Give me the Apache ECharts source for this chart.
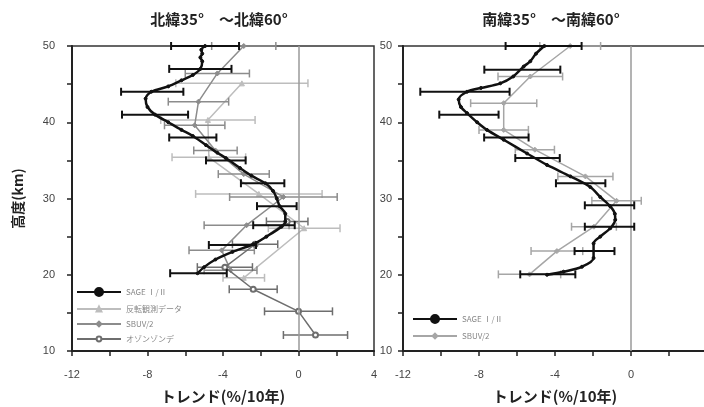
<!DOCTYPE html>
<html><head><meta charset="utf-8">
<script src="https://cdn.jsdelivr.net/npm/echarts@6/dist/echarts.min.js"></script>
<style>html,body{margin:0;padding:0;background:#fff}#c{width:704px;height:407px}</style>
</head><body><div id="c"></div>
<script>
// ---------- tick labels / titles ----------
const xTickLabels = ['-12', '-8', '-4', '0', '4'];
const yTickLabels = ['10', '20', '30', '40', '50'];
const titles = ['北緯35°　～北緯60°', '南緯35°　～南緯60°'];
const xName = 'トレンド(%/10年)';
const yName = '高度(km)';

// ---------- North 35-60 : SAGE I/II profile ----------
const nSageAlt = [50, 49.5, 49, 48.5, 48, 47, 46.2, 45.5, 44.7, 44, 43.1, 42, 41, 40, 39, 38.2, 37, 36, 35.3, 34, 33, 32, 31, 30, 29, 28, 27, 26.3, 25, 24, 23, 22, 21, 20.2];
const nSageVal = [-4.95, -5.15, -5.1, -5.2, -5.1, -5.2, -5.6, -6.2, -6.9, -7.8, -8.1, -8.0, -7.6, -6.9, -6.2, -5.6, -4.9, -4.3, -3.85, -3.1, -2.5, -1.75, -1.35, -1.15, -1.0, -0.7, -0.7, -0.9, -1.7, -2.4, -3.5, -4.4, -5.0, -5.35];
const nSageErrAlt = [50, 47, 44, 41, 38, 35, 32, 29, 26.5, 23.9, 20.2];
const nSageErrVal = [-4.95, -5.2, -7.75, -7.6, -5.6, -3.85, -1.9, -1.15, -1.3, -3.5, -5.3];
const nSageErr = [1.8, 1.65, 1.65, 1.75, 1.25, 1.05, 1.15, 1.05, 1.1, 1.25, 1.5];

// North : Umkehr (反転観測データ)
const nUmkAlt = [45.1, 40.3, 35.4, 30.6, 26.1, 19.6];
const nUmkVal = [-3.0, -4.8, -4.75, -2.1, 0.3, -2.9];
const nUmkErr = [3.5, 2.5, 1.95, 3.35, 1.9, 1.1];

// North : SBUV/2
const nSbuvAlt = [50, 46.4, 42.7, 39.6, 36.3, 33.2, 30.2, 26.5, 23.2, 20.6];
const nSbuvVal = [-2.9, -4.3, -5.3, -5.5, -4.4, -2.9, -0.8, -2.75, -4.07, -3.6];
const nSbuvErr = [1.7, 1.7, 1.6, 1.6, 1.15, 1.35, 2.85, 2.25, 1.73, 1.4];

// North : ozonesonde (オゾンゾンデ)
const nSondeAlt = [12.1, 15.2, 18.1, 21.0, 24.0, 27.0];
const nSondeVal = [0.9, 0.0, -2.4, -3.9, -2.3, -0.6];
const nSondeErr = [1.7, 1.8, 1.27, 1.46, 1.2, 1.1];

// ---------- South 35-60 ----------
const sSageAlt = [50, 49, 48, 47.3, 46, 45.1, 44.5, 44, 43, 42, 41.2, 40, 39, 37.7, 35.9, 34.4, 32.9, 31.5, 30.2, 29, 28, 27.2, 26.1, 25, 24.1, 22.2, 21.05, 20.4, 20];
const sSageVal = [-4.56, -5.0, -5.3, -5.65, -6.2, -6.88, -7.9, -8.63, -9.07, -8.95, -8.63, -8.1, -7.58, -6.7, -5.47, -4.42, -3.19, -2.14, -1.62, -1.1, -0.85, -0.83, -1.09, -1.62, -1.97, -1.97, -2.58, -3.55, -4.42];
const sSageErrAlt = [50, 46.9, 44, 41, 38, 35.3, 32, 29.1, 26.3, 23.1, 20.05];
const sSageErrVal = [-4.6, -5.72, -8.74, -8.53, -6.56, -4.92, -2.65, -1.13, -1.13, -1.92, -4.38];
const sSageErr = [2.0, 2.0, 2.35, 1.56, 1.17, 1.17, 1.3, 1.3, 1.3, 1.05, 1.45];

const sSbuvAlt = [50, 46, 42.5, 39, 36.4, 32.9, 29.7, 26.3, 23.1, 20.05];
const sSbuvVal = [-3.2, -5.3, -6.7, -6.7, -5.06, -2.4, -0.76, -1.95, -3.9, -5.34];
const sSbuvErr = [1.6, 1.7, 1.74, 1.3, 1.03, 1.45, 1.3, 1.18, 1.36, 1.64];

const seriesNames = ['SAGE Ⅰ/Ⅱ', '反転観測データ', 'SBUV/2', 'オゾンゾンデ'];
const seriesNamesS = ['SAGE Ⅰ/Ⅱ ', 'SBUV/2 '];

// ---------- helpers ----------
function pts(alt, val) { return alt.map((a, i) => [val[i], a]); }
function bars(alt, val, err) { return alt.map((a, i) => [a, val[i], err[i]]); }
function errRender(color, w) {
  return function (params, api) {
    const y = api.value(0), x = api.value(1), e = api.value(2);
    const p1 = api.coord([x - e, y]), p2 = api.coord([x + e, y]);
    const h = 4;
    const st = { stroke: color, lineWidth: w };
    return { type: 'group', children: [
      { type: 'line', shape: { x1: p1[0], y1: p1[1], x2: p2[0], y2: p2[1] }, style: st },
      { type: 'line', shape: { x1: p1[0], y1: p1[1] - h, x2: p1[0], y2: p1[1] + h }, style: st },
      { type: 'line', shape: { x1: p2[0], y1: p2[1] - h, x2: p2[0], y2: p2[1] + h }, style: st }
    ]};
  };
}
function errSeries(gi, alt, val, err, color, w, z) {
  return { type: 'custom', xAxisIndex: gi, yAxisIndex: gi, silent: true, z: z,
    renderItem: errRender(color, w), encode: { x: 1, y: 0 }, data: bars(alt, val, err) };
}
function lineSeries(gi, name, alt, val, color, w, symbol, size, z, smooth) {
  return { type: 'line', name: name, xAxisIndex: gi, yAxisIndex: gi, data: pts(alt, val),
    smooth: smooth || false, symbol: symbol, symbolSize: size, showSymbol: true, z: z,
    lineStyle: { color: color, width: w }, itemStyle: { color: color, borderColor: color, borderWidth: 1 },
    animation: false };
}

const C_SAGE = '#111111', C_UMK = '#bdbdbd', C_SBUV = '#8c8c8c', C_SONDE = '#6e6e6e', C_SBUV_S = '#a6a6a6';
const tickFont = { fontFamily: 'Liberation Sans, Arial, sans-serif', fontSize: 11, color: '#444' };
const jpFont = 'Noto Sans CJK JP';

function xAxisDef(gi) {
  return { type: 'value', gridIndex: gi, min: -12, max: 4, interval: 2,
    name: xName, nameLocation: 'middle', nameGap: 38,
    nameTextStyle: { fontFamily: jpFont, fontSize: 15, fontWeight: 'bold', color: '#222' },
    axisLine: { show: true, onZero: false, lineStyle: { color: '#222', width: 2 } },
    axisTick: { show: true, inside: false, length: 5, lineStyle: { color: '#222', width: 1.5 } },
    axisLabel: Object.assign({ margin: 18, showMaxLabel: true, formatter: v => (v % 4 === 0 ? xTickLabels[(v + 12) / 4] : '') }, tickFont),
    splitLine: { show: false } };
}
function yAxisDef(gi, withName, margin) {
  return { type: 'value', gridIndex: gi, min: 10, max: 50, interval: 5,
    name: withName ? yName : '', nameLocation: 'middle', nameGap: 47, nameRotate: 90,
    nameTextStyle: { fontFamily: jpFont, fontSize: 14, fontWeight: 'bold', color: '#222' },
    axisLine: { show: true, onZero: false, lineStyle: { color: '#222', width: 2 } },
    axisTick: { show: true, inside: false, length: 5, lineStyle: { color: '#222', width: 1.5 } },
    axisLabel: Object.assign({ margin: margin, formatter: v => (v % 10 === 0 ? yTickLabels[(v - 10) / 10] : '') }, tickFont),
    splitLine: { show: false } };
}
const zeroLine = { silent: true, symbol: ['none', 'none'], label: { show: false },
  lineStyle: { color: '#9a9a9a', width: 1.5, type: 'solid' }, data: [{ xAxis: 0 }], animation: false };

const legendText = { fontFamily: jpFont, fontSize: 8, color: '#888' };

const option = {
  animation: false,
  backgroundColor: '#fff',
  graphic: [
    { type: 'text', x: 219, y: 19, style: { text: titles[0], font: 'bold 15px "Noto Sans CJK JP"', fill: '#222', textAlign: 'center', textVerticalAlign: 'middle' } },
    { type: 'text', x: 551, y: 19, style: { text: titles[1], font: 'bold 15px "Noto Sans CJK JP"', fill: '#222', textAlign: 'center', textVerticalAlign: 'middle' } }
  ],
  grid: [
    { left: 72, top: 46, width: 302, height: 305, show: true, borderColor: '#333', borderWidth: 1.5, backgroundColor: 'transparent', outerBoundsMode: 'none' },
    { left: 403, top: 46, width: 304, height: 305, show: true, borderColor: '#333', borderWidth: 1.5, backgroundColor: 'transparent', outerBoundsMode: 'none' }
  ],
  xAxis: [xAxisDef(0), xAxisDef(1)],
  yAxis: [yAxisDef(0, true, 17), yAxisDef(1, false, 11)],
  legend: [
    { data: [seriesNames[0]], orient: 'vertical', left: 76, top: 287, itemWidth: 44, itemHeight: 10, textStyle: legendText, selectedMode: false, padding: 0, itemGap: 6 },
    { data: seriesNames.slice(1), orient: 'vertical', left: 76, top: 305, itemWidth: 44, itemHeight: 6, textStyle: legendText, selectedMode: false, padding: 0, itemGap: 7 },
    { data: [seriesNamesS[0]], orient: 'vertical', left: 412, top: 314, itemWidth: 44, itemHeight: 10, textStyle: legendText, selectedMode: false, padding: 0, itemGap: 6 },
    { data: [seriesNamesS[1]], orient: 'vertical', left: 412, top: 332, itemWidth: 44, itemHeight: 6, textStyle: legendText, selectedMode: false, padding: 0, itemGap: 6 }
  ],
  series: [
    // north
    Object.assign(lineSeries(0, seriesNames[2], nSbuvAlt, nSbuvVal, C_SBUV, 1.5, 'diamond', 5, 3), { markLine: zeroLine }),
    errSeries(0, nUmkAlt, nUmkVal, nUmkErr, C_UMK, 1.5, 2),
    errSeries(0, nSbuvAlt, nSbuvVal, nSbuvErr, C_SBUV, 1.5, 3),
    errSeries(0, nSondeAlt, nSondeVal, nSondeErr, C_SONDE, 1.5, 3),
    lineSeries(0, seriesNames[1], nUmkAlt, nUmkVal, C_UMK, 1.5, 'triangle', 5, 2),
    lineSeries(0, seriesNames[3], nSondeAlt, nSondeVal, C_SONDE, 1.5, 'emptyCircle', 5, 4),
    errSeries(0, nSageErrAlt, nSageErrVal, nSageErr, C_SAGE, 2, 5),
    lineSeries(0, seriesNames[0], nSageAlt, nSageVal, C_SAGE, 2.5, 'circle', 3, 6, 0.3),
    // south
    Object.assign(lineSeries(1, seriesNamesS[1], sSbuvAlt, sSbuvVal, C_SBUV_S, 1.5, 'diamond', 5, 3), { markLine: zeroLine }),
    errSeries(1, sSbuvAlt, sSbuvVal, sSbuvErr, C_SBUV_S, 1.5, 3),
    errSeries(1, sSageErrAlt, sSageErrVal, sSageErr, C_SAGE, 2, 5),
    lineSeries(1, seriesNamesS[0], sSageAlt, sSageVal, C_SAGE, 2.5, 'circle', 3, 6, 0.3)
  ]
};
const chart = echarts.init(document.getElementById('c'), null, { renderer: 'canvas' });
chart.setOption(option);
</script>
</body></html>
